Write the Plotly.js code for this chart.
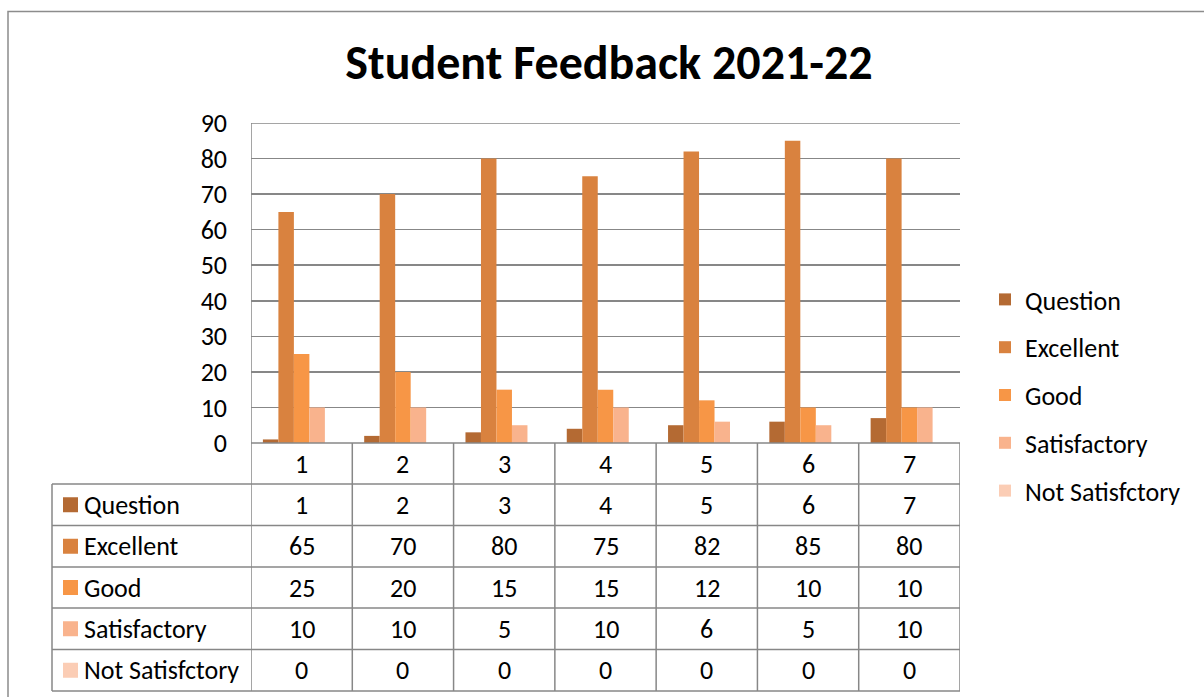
<!DOCTYPE html>
<html>
<head>
<meta charset="utf-8">
<script src="https://cdn.plot.ly/plotly-3.0.1.min.js"></script>
<style>
  html, body { margin: 0; padding: 0; background: #fff; }
  #chart { width: 1204px; height: 697px; }
</style>
</head>
<body>
<div id="chart"></div>
<script>
// data
const questions = [1, 2, 3, 4, 5, 6, 7]
const seriesNames = ['Question', 'Excellent', 'Good', 'Satisfactory', 'Not Satisfctory']
const questionVals = [1, 2, 3, 4, 5, 6, 7]
const excellent = [65, 70, 80, 75, 82, 85, 80]
const good = [25, 20, 15, 15, 12, 10, 10]
const satisfactory = [10, 10, 5, 10, 6, 5, 10]
const notSatisfactory = [0, 0, 0, 0, 0, 0, 0]
const colors = ['#B46A33', '#D9823F', '#F79646', '#F9B38D', '#FBCDB5']

const FONT = 'Calibri, Carlito, Lato, sans-serif'
const GRID = '#878787'
const TXT = 26

// pixel geometry of the plot area (px of the 1204x697 page)
const L = 251, R = 960, T = 123, B = 443
const W = R - L, H = B - T
const px2x = p => (p - L) / W
const px2y = p => (B - p) / H

const allSeries = [questionVals, excellent, good, satisfactory, notSatisfactory]

const traces = allSeries.map((vals, i) => ({
  type: 'bar',
  x: questions,
  y: vals,
  name: seriesNames[i],
  legendgroup: 'g' + i,
  marker: { color: colors[i], line: { width: 0 } },
  hoverinfo: 'skip'
}))

// data table under the plot
const rowTop = [443, 484, 525.5, 567, 608, 649.5, 691]
const tableLeft = 52
const shapes = []
const annotations = []

// top gridline (range end, plotly leaves it out)
shapes.push({
  type: 'line', xref: 'paper', yref: 'y', x0: 0, x1: 1, y0: 90, y1: 90,
  line: { color: GRID, width: 1.5 }
})
// horizontal lines
rowTop.forEach((py, i) => {
  shapes.push({
    type: 'line', xref: 'paper', yref: 'paper',
    x0: px2x(i <= 0 ? L : tableLeft), x1: px2x(R), y0: px2y(py), y1: px2y(py),
    line: { color: GRID, width: 1.5 }
  })
})
// vertical column lines
for (let c = 0; c <= questions.length; c++) {
  shapes.push({
    type: 'line', xref: 'x', yref: 'paper',
    x0: 0.5 + c, x1: 0.5 + c, y0: px2y(c === 0 ? T : B), y1: px2y(rowTop[6]),
    line: { color: GRID, width: 1.5 }
  })
}
shapes.push({
  type: 'line', xref: 'paper', yref: 'paper',
  x0: px2x(tableLeft), x1: px2x(tableLeft), y0: px2y(rowTop[1]), y1: px2y(rowTop[6]),
  line: { color: GRID, width: 1.5 }
})
// outer chart border
shapes.push({
  type: 'rect', xref: 'paper', yref: 'paper',
  x0: px2x(8), x1: px2x(1215), y0: px2y(11.5), y1: px2y(710),
  line: { color: '#8c8c8c', width: 1.5 }
})

const cellFont = { family: FONT, size: TXT, color: '#000' }

// header row: category numbers
questions.forEach(q => {
  annotations.push({
    xref: 'x', yref: 'paper', x: q, y: px2y((rowTop[0] + rowTop[1]) / 2),
    xanchor: 'center', yanchor: 'middle',
    text: String(q), showarrow: false, font: cellFont
  })
})
// series rows
allSeries.forEach((vals, r) => {
  const cy = (rowTop[r + 1] + rowTop[r + 2]) / 2
  shapes.push({
    type: 'rect', xref: 'paper', yref: 'paper',
    x0: px2x(63), x1: px2x(78), y0: px2y(cy - 7.5), y1: px2y(cy + 7.5),
    fillcolor: colors[r], line: { width: 0 }
  })
  annotations.push({
    xref: 'paper', yref: 'paper', x: px2x(82), y: px2y(cy),
    xanchor: 'left', yanchor: 'middle',
    text: seriesNames[r], showarrow: false, font: cellFont
  })
  vals.forEach((v, c) => {
    annotations.push({
      xref: 'x', yref: 'paper', x: questions[c], y: px2y(cy),
      xanchor: 'center', yanchor: 'middle',
      text: String(v), showarrow: false, font: cellFont
    })
  })
})

const layout = {
  width: 1204,
  height: 697,
  margin: { l: L, r: 1204 - R, t: T, b: 697 - B, pad: 0 },
  paper_bgcolor: '#fff',
  plot_bgcolor: '#fff',
  font: { family: FONT, size: TXT, color: '#000' },
  title: {
    text: '<b>Student Feedback 2021-22</b>',
    font: { family: FONT, size: 48, color: '#000' },
    x: 609 / 1204, xanchor: 'center',
    y: 1 - 62 / 697, yanchor: 'middle', yref: 'container'
  },
  barmode: 'group',
  bargap: 0.235,
  bargroupgap: 0,
  xaxis: {
    range: [0.5, 7.5],
    showticklabels: false,
    showgrid: false,
    zeroline: false,
    showline: false,
    ticks: '',
    fixedrange: true
  },
  yaxis: {
    range: [0, 90],
    dtick: 10,
    showgrid: true,
    gridcolor: GRID,
    gridwidth: 1.5,
    zeroline: false,
    showline: false,
    ticks: '',
    ticklabelstandoff: 23,
    tickfont: { family: FONT, size: TXT, color: '#000' },
    fixedrange: true
  },
  showlegend: true,
  legend: {
    x: px2x(985), xanchor: 'left',
    y: px2y(276), yanchor: 'top',
    font: { family: FONT, size: TXT, color: '#000' },
    tracegroupgap: 11,
    traceorder: 'grouped',
    bgcolor: 'rgba(0,0,0,0)'
  },
  shapes: shapes,
  annotations: annotations
}

Plotly.newPlot('chart', traces, layout, { displayModeBar: false, staticPlot: true })
</script>
</body>
</html>
